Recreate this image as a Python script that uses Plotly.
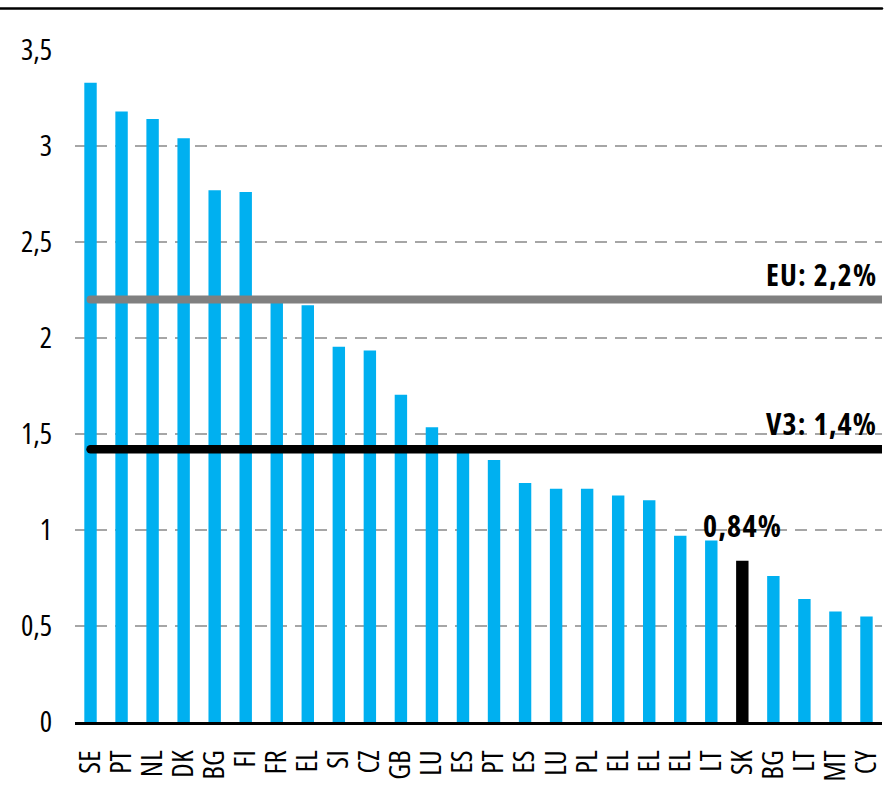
import plotly.graph_objects as go

categories = ["SE", "PT", "NL", "DK", "BG", "FI", "FR", "EL", "SI", "CZ", "GB", "LU", "ES",
              "PT", "ES", "LU", "PL", "EL", "EL", "EL", "LT", "SK", "BG", "LT", "MT", "CY"]
values = [3.33, 3.18, 3.14, 3.04, 2.77, 2.76, 2.19, 2.17, 1.955, 1.935, 1.705, 1.535, 1.42,
          1.365, 1.245, 1.215, 1.215, 1.18, 1.155, 0.97, 0.945, 0.84, 0.76, 0.64, 0.575, 0.55]
highlight = "SK"
eu_value = 2.2
v3_value = 1.42
eu_label = "EU: 2,2%"
v3_label = "V3: 1,4%"
sk_label = "0,84%"
y_ticks = [0, 0.5, 1, 1.5, 2, 2.5, 3, 3.5]
y_ticktext = ["0", "0,5", "1", "1,5", "2", "2,5", "3", "3,5"]

FONT = "Open Sans"
CYAN = "#00B0F0"

xs = list(range(len(categories)))
colors = ["#000000" if c == highlight else CYAN for c in categories]

fig = go.Figure()
fig.add_trace(go.Bar(x=xs, y=values, marker=dict(color=colors, line=dict(width=0)),
                     width=0.4, hoverinfo="skip"))

sk_idx = categories.index(highlight)

shapes = [
    dict(type="line", xref="x", yref="y", x0=0, x1=len(categories) - 0.5, y0=eu_value, y1=eu_value,
         line=dict(color="#808080", width=8), layer="above"),
    dict(type="line", xref="x", yref="y", x0=0, x1=len(categories) - 0.5, y0=v3_value, y1=v3_value,
         line=dict(color="#000000", width=8.5), layer="above"),
    dict(type="line", xref="paper", yref="paper", x0=-0.1, x1=1.0, y0=1.0617, y1=1.0617,
         line=dict(color="#000000", width=2.5)),
]

label_font = dict(family=FONT, size=30, color="#000000", weight="bold")
annotations = [
    dict(xref="paper", yref="y", x=1, y=eu_value, xanchor="right", yanchor="bottom",
         xshift=-3, yshift=3, text=eu_label, showarrow=False, font=label_font),
    dict(xref="paper", yref="y", x=1, y=v3_value, xanchor="right", yanchor="bottom",
         xshift=-3, yshift=3, text=v3_label, showarrow=False, font=label_font),
    dict(xref="x", yref="y", x=sk_idx, y=values[sk_idx], xanchor="center", yanchor="bottom",
         yshift=13, text=sk_label, showarrow=False, font=label_font),
]

fig.update_layout(
    width=884, height=803,
    margin=dict(l=75, r=0, t=50, b=81),
    paper_bgcolor="white", plot_bgcolor="white",
    showlegend=False,
    bargap=0.6,
    shapes=shapes,
    annotations=annotations,
    font=dict(family=FONT, size=29, color="#000000"),
    xaxis=dict(
        tickmode="array", tickvals=xs, ticktext=categories,
        tickangle=-90, range=[-0.5, len(categories) - 0.5],
        showgrid=False, zeroline=False,
        showline=True, linecolor="#000000", linewidth=2.5,
        ticks="", ticklabelstandoff=14, ticklabeloverflow="allow",
        tickfont=dict(family=FONT, size=29, color="#000000"),
    ),
    yaxis=dict(
        range=[0, 3.5], tickmode="array", tickvals=y_ticks, ticktext=y_ticktext,
        showgrid=True, gridcolor="#A6A6A6", gridwidth=2.3, griddash="12px,8px",
        zeroline=False, showline=False, ticks="", ticklabelstandoff=22,
        tickfont=dict(family=FONT, size=29, color="#000000"),
    ),
)

post = """
var st = document.createElement('style');
st.textContent = 'text { font-stretch: 75%; } text.annotation-text { letter-spacing: 1.2px; } '
  + '.shapelayer path { stroke-linecap: round; }';
document.head.appendChild(st);
document.body.style.margin = '0';
document.body.style.overflow = 'hidden';
var gd = document.getElementById('{plot_id}');
function swapFamily(o) {
  if (o && typeof o === 'object') {
    for (var k in o) {
      if (k === 'family' && o[k] === 'Open Sans') { o[k] = 'Open Sans, sans-serif'; }
      else if (typeof o[k] === 'object') { swapFamily(o[k]); }
    }
  }
}
swapFamily(gd.layout);
Plotly.newPlot(gd, gd.data, gd.layout, {displayModeBar: false});
"""
fig.write_html("out.html", post_script=post, config={"displayModeBar": False})
